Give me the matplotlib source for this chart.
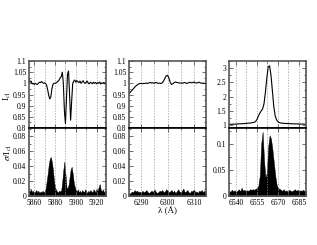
import matplotlib
matplotlib.use("Agg")
import matplotlib.pyplot as plt
import numpy as np
from matplotlib.ticker import MultipleLocator

plt.rcParams['font.family'] = ['Liberation Serif', 'DejaVu Serif']
plt.rcParams['mathtext.fontset'] = 'stix'

# --- data ---
# panel 1 : He I 5876 + Na D, 1 A steps from 5855
wl1 = np.arange(5855, 5930, 1.0)
flux1 = [1.02, 1.005, 1.01, 0.998, 1.0, 0.995, 1.0, 0.997, 0.995, 1.0,
         1.005, 1.003, 1.008, 1.004, 1.0, 1.002, 1.0, 0.99, 0.97, 0.945,
         0.93, 0.94, 0.975, 0.995, 1.0, 1.0, 1.002, 1.005, 1.01, 1.015,
         1.025, 1.03, 1.05, 1.0, 0.88, 0.82, 0.93, 1.04, 1.055, 0.95,
         0.835, 0.92, 1.0, 1.01, 1.015, 1.005, 1.012, 1.008, 1.003, 1.01,
         1.0, 1.006, 1.012, 1.003, 1.0, 1.005, 1.01, 1.0, 0.998, 1.005,
         1.002, 0.998, 1.005, 1.0, 1.004, 0.998, 1.003, 1.0, 1.006, 0.997,
         1.002, 1.0, 1.004, 0.998, 1.0]
sig1 = [0.008, 0.006, 0.009, 0.005, 0.007, 0.004, 0.006, 0.008, 0.005, 0.007,
        0.004, 0.006, 0.005, 0.007, 0.005, 0.006, 0.01, 0.02, 0.03, 0.042,
        0.05, 0.052, 0.045, 0.035, 0.02, 0.012, 0.008, 0.006, 0.005, 0.007,
        0.006, 0.008, 0.02, 0.035, 0.046, 0.03, 0.012, 0.01, 0.015, 0.025,
        0.035, 0.039, 0.03, 0.018, 0.012, 0.008, 0.006, 0.009, 0.005, 0.007,
        0.004, 0.008, 0.006, 0.005, 0.009, 0.006, 0.004, 0.007, 0.005, 0.008,
        0.006, 0.005, 0.009, 0.007, 0.005, 0.01, 0.007, 0.012, 0.016, 0.008,
        0.006, 0.009, 0.005, 0.007, 0.006]

# panel 2 : [O I] 6300, 0.5 A steps from 6285.5
wl2 = np.arange(6285.5, 6314.6, 0.5)
flux2 = [0.955, 0.962, 0.968, 0.975, 0.982, 0.988, 0.993, 0.997, 0.999, 1.0,
         0.998, 1.0, 0.999, 1.001, 1.0, 1.002, 1.004, 1.001, 1.003, 1.0,
         1.004, 1.002, 1.0, 1.001, 0.999, 1.003, 1.01, 1.022, 1.033, 1.036,
         1.025, 1.005, 0.995, 0.998, 1.003, 1.006, 1.004, 1.003, 1.001, 1.002,
         1.0, 1.002, 1.004, 1.001, 1.0, 1.003, 1.005, 1.002, 1.003, 1.006,
         1.003, 1.001, 1.003, 1.005, 1.002, 1.0, 1.001, 1.0, 0.998]
sig2 = [0.003, 0.004, 0.006, 0.005, 0.008, 0.006, 0.007, 0.005, 0.006, 0.004,
        0.007, 0.005, 0.006, 0.008, 0.005, 0.004, 0.006, 0.007, 0.005, 0.009,
        0.006, 0.004, 0.005, 0.007, 0.006, 0.008, 0.005, 0.006, 0.009, 0.007,
        0.005, 0.006, 0.008, 0.005, 0.007, 0.004, 0.006, 0.009, 0.006, 0.005,
        0.007, 0.01, 0.005, 0.006, 0.008, 0.005, 0.004, 0.007, 0.006, 0.009,
        0.005, 0.006, 0.004, 0.007, 0.006, 0.008, 0.005, 0.007, 0.006]

# panel 3 : H alpha, 1 A steps from 6535
wl3 = np.arange(6535, 6591, 1.0)
flux3 = [1.03, 1.03, 1.03, 1.035, 1.035, 1.04, 1.04, 1.045, 1.045, 1.05,
         1.05, 1.055, 1.06, 1.065, 1.07, 1.075, 1.08, 1.09, 1.1, 1.13,
         1.2, 1.32, 1.42, 1.5, 1.57, 1.75, 2.15, 2.65, 3.05, 3.08,
         2.75, 2.2, 1.65, 1.32, 1.18, 1.12, 1.09, 1.075, 1.07, 1.065,
         1.06, 1.058, 1.055, 1.052, 1.05, 1.048, 1.046, 1.045, 1.043, 1.042,
         1.04, 1.04, 1.038, 1.037, 1.035, 1.035]
sig3 = [0.01, 0.008, 0.012, 0.009, 0.011, 0.008, 0.01, 0.013, 0.009, 0.016,
        0.01, 0.012, 0.009, 0.011, 0.01, 0.013, 0.012, 0.013, 0.012, 0.014,
        0.015, 0.02, 0.04, 0.1, 0.124, 0.07, 0.035, 0.045, 0.095, 0.117,
        0.11, 0.09, 0.065, 0.04, 0.022, 0.015, 0.014, 0.012, 0.01, 0.013,
        0.009, 0.011, 0.008, 0.012, 0.01, 0.009, 0.011, 0.013, 0.01, 0.012,
        0.009, 0.011, 0.01, 0.012, 0.009, 0.01]

xlims = [(5855, 5929), (6285.4, 6314.6), (6535, 6590)]
xmajor = [20, 10, 15]
xminor = [10, 5, 7.5]
top_lims = [(0.8, 1.1), (0.8, 1.1), (0.9, 3.25)]
top_major = [0.05, 0.05, 0.5]
bot_lims = [(0, 0.0907), (0, 0.0907), (0, 0.131)]
bot_major = [0.02, 0.02, 0.05]

W, H = 317, 245
fig = plt.figure(figsize=(W / 100, H / 100), dpi=100)

lefts = [29, 129, 229]
frame = '#555555'


def style(ax, xl, xmj, xmn, yl, ymj, labels_x):
    ax.set_xlim(*xl)
    ax.set_ylim(*yl)
    ax.xaxis.set_major_locator(MultipleLocator(xmj))
    ax.xaxis.set_minor_locator(MultipleLocator(xmn))
    ax.yaxis.set_major_locator(MultipleLocator(ymj))
    ax.yaxis.set_minor_locator(MultipleLocator(ymj / 2))
    ax.tick_params(which='both', direction='in', top=True, right=True,
                   labelsize=5.5, color=frame, width=0.6, pad=2)
    ax.tick_params(which='major', length=3)
    ax.tick_params(which='minor', length=1.5)
    ax.grid(True, which='both', axis='x', color='#999999', ls=(0, (2, 2)), lw=0.5)
    for s in ax.spines.values():
        s.set_color(frame)
        s.set_linewidth(1.2)
    if not labels_x:
        ax.tick_params(labelbottom=False)
    ax.yaxis.set_major_formatter(matplotlib.ticker.FuncFormatter(
        lambda v, p: ('%g' % round(v, 4))))


series = [(wl1, flux1, sig1), (wl2, flux2, sig2), (wl3, flux3, sig3)]

for i, (wl, fl, sg) in enumerate(series):
    x0 = lefts[i] / W
    w = 77 / W
    ax_t = fig.add_axes([x0, 1 - 128 / H, w, 67 / H])
    ax_b = fig.add_axes([x0, 1 - 196 / H, w, 68 / H])

    ax_t.plot(wl, fl, color='black', lw=0.8)
    ax_b.fill_between(wl, 0, sg, color='black', lw=0.3, edgecolor='black')

    style(ax_t, xlims[i], xmajor[i], xminor[i], top_lims[i], top_major[i], False)
    style(ax_b, xlims[i], xmajor[i], xminor[i], bot_lims[i], bot_major[i], True)
    ax_t.spines['bottom'].set_color('black')
    ax_b.spines['top'].set_color('black')

fig.text(7 / W, 1 - 96 / H, r'I$_{c1}$', rotation=90, fontsize=6.5,
         ha='center', va='center')
fig.text(8 / W, 1 - 152 / H, r'$\sigma$/I$_{c1}$', rotation=90, fontsize=6.5,
         ha='center', va='center')
fig.text(167 / W, 1 - 211 / H, 'λ (Å)', fontsize=6.5, ha='center', va='center')

fig.savefig('out.png', dpi=100)
